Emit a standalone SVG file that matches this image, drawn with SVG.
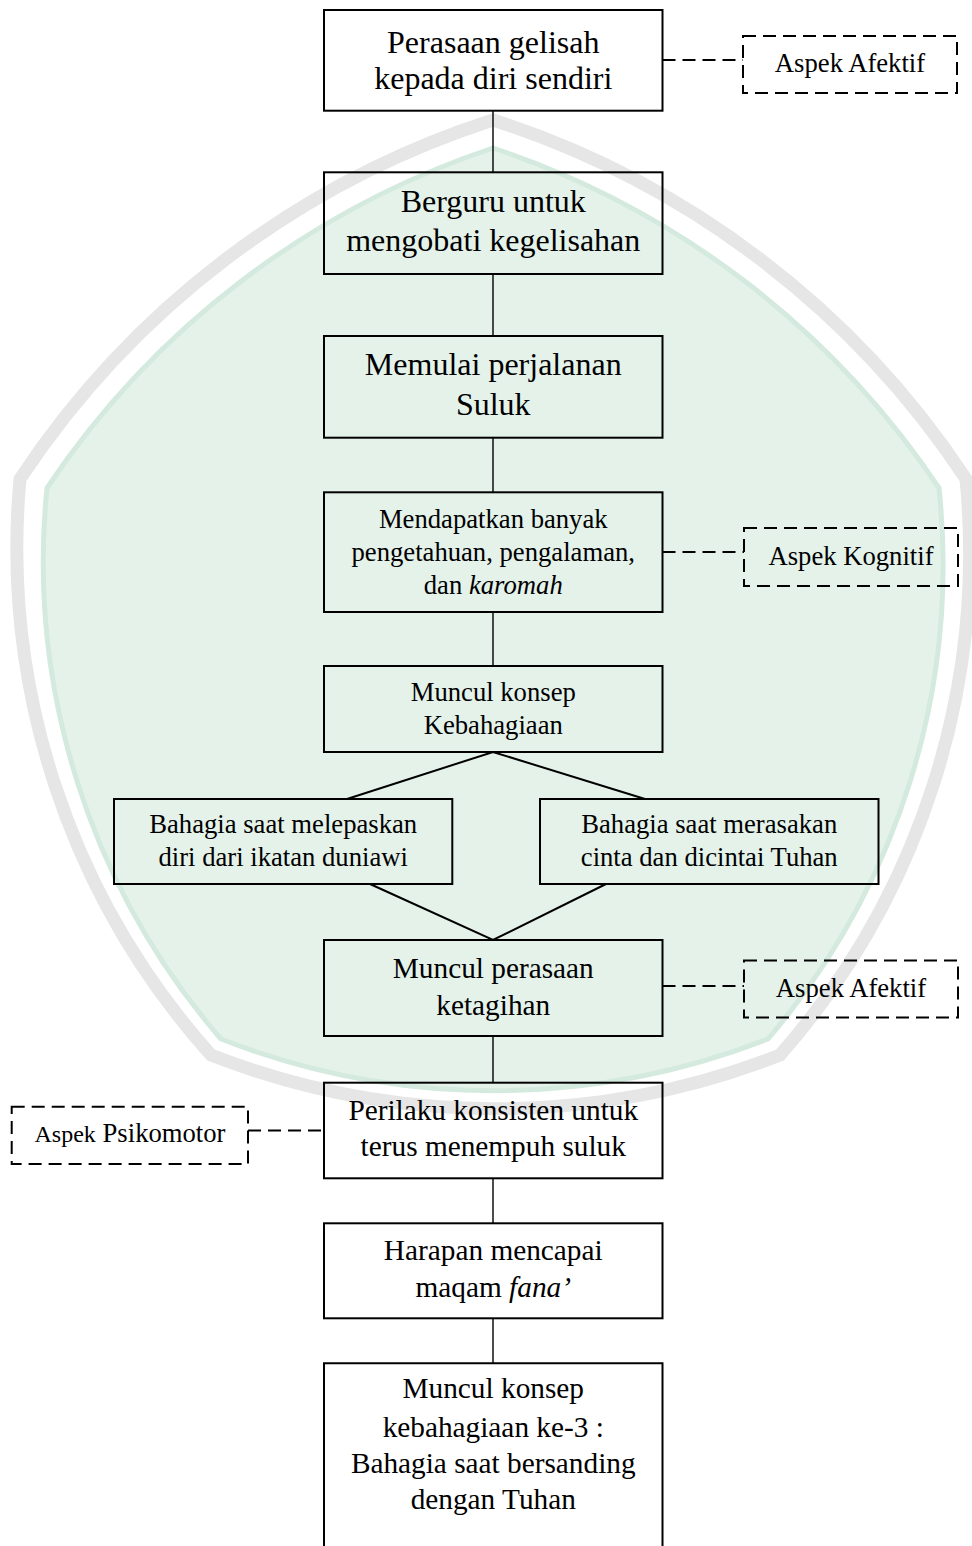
<svg xmlns="http://www.w3.org/2000/svg" width="972" height="1546" viewBox="0 0 972 1546">
<style>
.box{fill:none;stroke:#000;stroke-width:2}
.dbox{fill:none;stroke:#000;stroke-width:2;stroke-dasharray:13 7}
.ln{fill:none;stroke:#000;stroke-width:1.4}
.dl{fill:none;stroke:#000;stroke-width:2}
.dash{fill:none;stroke:#000;stroke-width:2;stroke-dasharray:13 7}
.t32{font-family:"Liberation Serif","Times New Roman",serif;font-size:32px;fill:#000;text-anchor:middle}
.t29{font-family:"Liberation Serif","Times New Roman",serif;font-size:29.3px;fill:#000;text-anchor:middle}
.t27{font-family:"Liberation Serif","Times New Roman",serif;font-size:26.67px;fill:#000;text-anchor:middle}
</style>
<rect width="972" height="1546" fill="#fff"/>
<g id="watermark">
<path d="M 20,479 A 895 895 0 0 1 493,120 A 895 895 0 0 1 966,479 A 760 760 0 0 1 780,1055 A 780 780 0 0 1 211,1055 A 760 760 0 0 1 20,479 Z" fill="none" stroke="#e6e6e6" stroke-width="13"/>
<path d="M 47,488 A 865 865 0 0 1 493,148 A 865 865 0 0 1 939,488 A 730 730 0 0 1 768,1039 A 750 750 0 0 1 221,1039 A 730 730 0 0 1 47,488 Z" fill="#e4f2ea" stroke="#d5eadf" stroke-width="5"/>
</g>
<g id="connectors">
<line class="ln" x1="493" y1="110.7" x2="493" y2="172.3"/>
<line class="ln" x1="493" y1="274" x2="493" y2="336"/>
<line class="ln" x1="493" y1="437.7" x2="493" y2="492.3"/>
<line class="ln" x1="493" y1="612" x2="493" y2="666"/>
<polyline class="dl" points="347,799 493,752 645,799"/>
<polyline class="dl" points="370,884 493,940 606,884"/>
<line class="ln" x1="493" y1="1036" x2="493" y2="1082.7"/>
<line class="ln" x1="493" y1="1178.3" x2="493" y2="1223.3"/>
<line class="ln" x1="493" y1="1318.3" x2="493" y2="1363.3"/>
<line class="dash" x1="662.5" y1="60" x2="743" y2="60"/>
<line class="dash" x1="662.5" y1="552" x2="744" y2="552"/>
<line class="dash" x1="662.5" y1="986" x2="744" y2="986"/>
<line class="dash" x1="248" y1="1130.5" x2="324" y2="1130.5"/>
</g>
<g id="n1">
<rect class="box" x="324" y="10" width="338.5" height="100.7"/>
<text class="t32" x="493.25" y="53.3">Perasaan gelisah</text>
<text class="t32" x="493.25" y="89.3">kepada diri sendiri</text>
</g>
<g id="a1">
<rect class="dbox" x="743" y="36" width="214" height="57"/>
<text class="t27" x="850" y="72">Aspek Afektif</text>
</g>
<g id="n2">
<rect class="box" x="324" y="172.3" width="338.5" height="101.7"/>
<text class="t32" x="493.25" y="211.7">Berguru untuk</text>
<text class="t32" x="493.25" y="250.7">mengobati kegelisahan</text>
</g>
<g id="n3">
<rect class="box" x="324" y="336" width="338.5" height="101.7"/>
<text class="t32" x="493.25" y="375">Memulai perjalanan</text>
<text class="t32" x="493.25" y="415">Suluk</text>
</g>
<g id="n4">
<rect class="box" x="324" y="492.3" width="338.5" height="119.7"/>
<text class="t27" x="493.25" y="528">Mendapatkan banyak</text>
<text class="t27" x="493.25" y="560.6">pengetahuan, pengalaman,</text>
<text class="t27" x="493.25" y="594">dan <tspan font-style="italic">karomah</tspan></text>
</g>
<g id="a2">
<rect class="dbox" x="744" y="528" width="214" height="58"/>
<text class="t27" x="851" y="565">Aspek Kognitif</text>
</g>
<g id="n5">
<rect class="box" x="324" y="666" width="338.5" height="86"/>
<text class="t27" x="493.25" y="701">Muncul konsep</text>
<text class="t27" x="493.25" y="733.6">Kebahagiaan</text>
</g>
<g id="n6">
<rect class="box" x="114" y="799" width="338.3" height="85"/>
<text class="t27" x="283.2" y="833">Bahagia saat melepaskan</text>
<text class="t27" x="283.2" y="866">diri dari ikatan duniawi</text>
</g>
<g id="n7">
<rect class="box" x="540" y="799" width="338.5" height="85"/>
<text class="t27" x="709.25" y="833">Bahagia saat merasakan</text>
<text class="t27" x="709.25" y="866">cinta dan dicintai Tuhan</text>
</g>
<g id="n8">
<rect class="box" x="324" y="940" width="338.5" height="96"/>
<text class="t29" x="493.25" y="978">Muncul perasaan</text>
<text class="t29" x="493.25" y="1014.5">ketagihan</text>
</g>
<g id="a3">
<rect class="dbox" x="744" y="960.5" width="214" height="57"/>
<text class="t27" x="851" y="996.5">Aspek Afektif</text>
</g>
<g id="n9">
<rect class="box" x="324" y="1082.7" width="338.5" height="95.6"/>
<text class="t29" x="493.25" y="1120">Perilaku konsisten untuk</text>
<text class="t29" x="493.25" y="1156">terus menempuh suluk</text>
</g>
<g id="a4">
<rect class="dbox" x="11.7" y="1106.7" width="236.3" height="57.3"/>
<text class="t27" x="130" y="1141.7"><tspan font-size="24px">Aspek</tspan> Psikomotor</text>
</g>
<g id="n10">
<rect class="box" x="324" y="1223.3" width="338.5" height="95"/>
<text class="t29" x="493.25" y="1260">Harapan mencapai</text>
<text class="t29" x="493.25" y="1296.7">maqam <tspan font-style="italic">fana’</tspan></text>
</g>
<g id="n11">
<polyline class="box" points="324,1550 324,1363.3 662.5,1363.3 662.5,1550"/>
<text class="t29" x="493.25" y="1398.3">Muncul konsep</text>
<text class="t29" x="493.25" y="1436.7">kebahagiaan ke-3 :</text>
<text class="t29" x="493.25" y="1473">Bahagia saat bersanding</text>
<text class="t29" x="493.25" y="1509.3">dengan Tuhan</text>
</g>
</svg>
